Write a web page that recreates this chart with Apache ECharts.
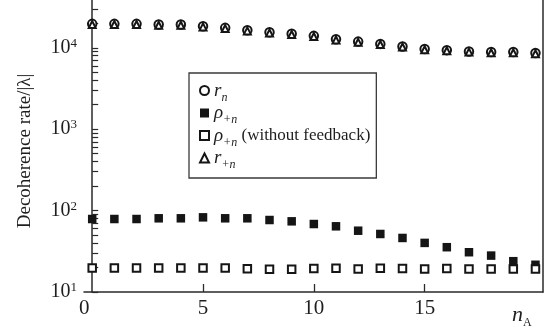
<!DOCTYPE html>
<html>
<head>
<meta charset="utf-8">
<script src="https://cdn.jsdelivr.net/npm/echarts@6/dist/echarts.min.js"></script>
<style>
html,body{margin:0;padding:0;background:#fff;}
#chart{width:552px;height:329px;}
</style>
</head>
<body>
<div id="chart"></div>
<script>
// ---- data ----
const nA = [0,1,2,3,4,5,6,7,8,9,10,11,12,13,14,15,16,17,18,19,20];
const rN = [19650,19650,19650,19270,19270,18400,17550,16400,15500,14830,14000,12700,11900,11150,10380,9640,9350,9010,8860,8860,8610];
const rPlusN = [19300,19300,19300,18900,18900,18050,17200,16100,15200,14550,13750,12450,11650,10950,10200,9450,9170,8840,8690,8690,8450];
const rhoPlusN = [78.8,78.8,78.8,80.4,80.4,82.6,80.4,80.4,76.6,73.8,68.4,64.1,56.6,51.6,46.1,40.1,35.5,30.8,28.0,23.9,21.6];
const rhoNoFeedback = [19.7,19.7,19.7,19.7,19.7,19.7,19.7,19.3,19.0,19.0,19.5,19.6,19.1,19.6,19.4,19.1,19.4,19.1,19.1,19.1,19.1];
const yLabelValues = [10,100,1000,10000];
const yTickValues = [10,20,30,40,50,60,70,80,90,100,200,300,400,500,600,700,800,900,1000,2000,3000,4000,5000,6000,7000,8000,9000,10000,20000,30000];
const xLabelValues = [0,5,10,15];
const xTickValues = [5,10,15];
const legendLabels = {
  rN: '{i|r}{sub|n}',
  rho: '{g|ρ}{sub|+n}',
  rho0: '{g|ρ}{sub|+n}{t| (without feedback)}',
  rPlus: '{i|r}{sub|+n}'
};

const FONT = "'Liberation Serif','DejaVu Serif',serif";
const INK = '#1e1e1e';
const pairs = (ys) => nA.map((x, i) => [x, ys[i]]);

const chart = echarts.init(document.getElementById('chart'), null, {renderer: 'canvas'});
const legendRich = {
  i: {fontFamily: FONT, fontStyle: 'italic', fontSize: 19, color: INK, lineHeight: 18},
  g: {fontFamily: FONT, fontStyle: 'italic', fontSize: 19, color: INK, lineHeight: 18},
  sub: {fontFamily: FONT, fontStyle: 'italic', fontSize: 12, color: INK, verticalAlign: 'bottom', lineHeight: 12, padding: [0,0,-4,0]},
  t: {fontFamily: FONT, fontSize: 17, color: INK, lineHeight: 18}
};

chart.setOption({
  animation: false,
  backgroundColor: '#fff',
  grid: {left: 84, right: 9, top: 0, bottom: 36, containLabel: false},
  legend: {
    orient: 'vertical',
    left: 189, top: 73,
    padding: [8, 6, 7, 10],
    itemGap: 0,
    itemWidth: 9, itemHeight: 9,
    borderColor: '#3a3a3a', borderWidth: 1.3,
    data: ['rN', 'rho', 'rho0', 'rPlus'],
    formatter: (name) => legendLabels[name],
    textStyle: {fontFamily: FONT, fontSize: 19, color: INK, rich: legendRich}
  },
  xAxis: [{
    type: 'value', min: -0.37, max: 20.34,
    axisLine: {lineStyle: {color: '#2a2a2a', width: 1.5}},
    axisTick: {inside: true, length: 8, customValues: xTickValues, lineStyle: {color: '#2a2a2a', width: 1.3}},
    axisLabel: {
      customValues: xLabelValues, margin: 6,
      formatter: (v) => v === 0 ? '{z|0}' : '{d|' + v + '}',
      rich: {
        d: {fontFamily: FONT, fontSize: 21, color: INK},
        z: {fontFamily: FONT, fontSize: 21, color: INK, padding: [0, 16, 0, 0]}
      }
    },
    splitLine: {show: false},
    name: '{n|n}{a|A}',
    nameLocation: 'end', nameGap: -31,
    nameTextStyle: {
      verticalAlign: 'top', padding: [12, 0, 0, 0],
      rich: {
        n: {fontFamily: FONT, fontStyle: 'italic', fontSize: 22, color: INK, lineHeight: 22},
        a: {fontFamily: FONT, fontSize: 12, color: INK, verticalAlign: 'bottom', lineHeight: 12, padding: [0,0,-3,0]}
      }
    }
  }],
  yAxis: [{
    type: 'log', logBase: 10, min: 10, max: 38600,
    axisLine: {lineStyle: {color: '#2a2a2a', width: 1.5}},
    axisTick: {inside: true, length: 6, customValues: yTickValues, lineStyle: {color: '#2a2a2a', width: 1.2}},
    axisLabel: {
      customValues: yLabelValues, margin: 7,
      formatter: (v) => '{b|10}{s|' + Math.round(Math.log10(v)) + '}',
      rich: {
        b: {fontFamily: FONT, fontSize: 20, color: INK, lineHeight: 22},
        s: {fontFamily: FONT, fontSize: 13, color: INK, verticalAlign: 'top', lineHeight: 13}
      }
    },
    splitLine: {show: false},
    minorTick: {show: false},
    name: 'Decoherence rate/|λ|',
    nameLocation: 'middle', nameGap: 49,
    nameTextStyle: {fontFamily: FONT, fontSize: 19, color: INK, padding: [0, 10, 0, 0]}
  }, {
    type: 'log', logBase: 10, min: 10, max: 38600, position: 'right',
    axisLine: {show: true, lineStyle: {color: '#2a2a2a', width: 1.5}},
    axisTick: {show: false}, axisLabel: {show: false}, splitLine: {show: false}
  }],
  series: [
    {name: 'rho', type: 'scatter', symbol: 'rect', symbolSize: 8.5, data: pairs(rhoPlusN),
     itemStyle: {color: '#151515', opacity: 1}},
    {name: 'rho0', type: 'scatter', symbol: 'emptyRect', symbolSize: 7.5, data: pairs(rhoNoFeedback),
     itemStyle: {color: '#151515', borderWidth: 1.6, opacity: 1}},
    {name: 'rN', type: 'scatter', symbol: 'emptyCircle', symbolSize: 8.5, data: pairs(rN),
     itemStyle: {color: '#151515', borderWidth: 1.5, opacity: 1}},
    {name: 'rPlus', type: 'scatter', symbol: 'emptyTriangle', symbolSize: 7, data: pairs(rPlusN),
     itemStyle: {color: '#151515', borderWidth: 1.4, opacity: 1}}
  ]
});
</script>
</body>
</html>
